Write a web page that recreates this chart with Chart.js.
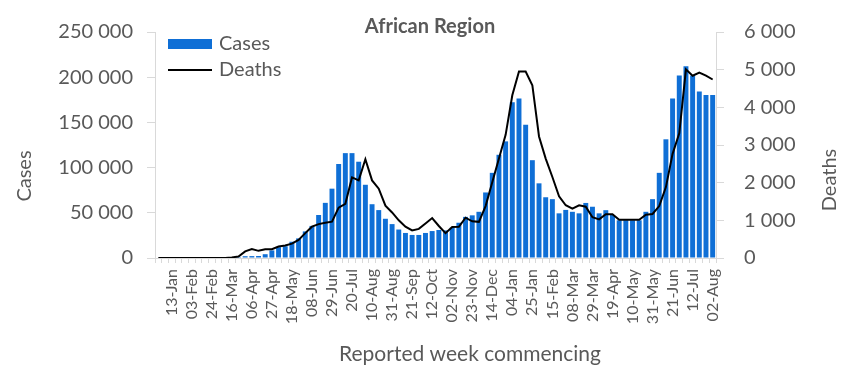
<!DOCTYPE html>
<html>
<head>
<meta charset="utf-8">
<script src="https://cdn.jsdelivr.net/npm/chart.js@4"></script>
<style>
  html, body { margin: 0; padding: 0; background: #fff; }
</style>
</head>
<body>
<canvas id="myChart" width="851" height="377"></canvas>
<script>
const weeks = [
  '30-Dec', '06-Jan', '13-Jan', '20-Jan', '27-Jan', '03-Feb', '10-Feb', '17-Feb', '24-Feb', '02-Mar',
  '09-Mar', '16-Mar', '23-Mar', '30-Mar', '06-Apr', '13-Apr', '20-Apr', '27-Apr', '04-May', '11-May',
  '18-May', '25-May', '01-Jun', '08-Jun', '15-Jun', '22-Jun', '29-Jun', '06-Jul', '13-Jul', '20-Jul',
  '27-Jul', '03-Aug', '10-Aug', '17-Aug', '24-Aug', '31-Aug', '07-Sep', '14-Sep', '21-Sep', '28-Sep',
  '05-Oct', '12-Oct', '19-Oct', '26-Oct', '02-Nov', '09-Nov', '16-Nov', '23-Nov', '30-Nov', '07-Dec',
  '14-Dec', '21-Dec', '28-Dec', '04-Jan', '11-Jan', '18-Jan', '25-Jan', '01-Feb', '08-Feb', '15-Feb',
  '22-Feb', '01-Mar', '08-Mar', '15-Mar', '22-Mar', '29-Mar', '05-Apr', '12-Apr', '19-Apr', '26-Apr',
  '03-May', '10-May', '17-May', '24-May', '31-May', '07-Jun', '14-Jun', '21-Jun', '28-Jun', '05-Jul',
  '12-Jul', '19-Jul', '26-Jul', '02-Aug'
];

const cases = [
  0, 0, 0, 0, 0, 0, 0, 0, 0, 0,
  50, 400, 1000, 2000, 2100, 2200, 4200, 8400, 12000, 13000,
  18000, 21700, 29400, 35500, 47600, 61000, 76700, 104000, 116000, 116000,
  106500, 81000, 59500, 53000, 43400, 37500, 31500, 27700, 25500, 25500,
  27700, 29800, 31000, 30500, 33500, 39000, 45500, 47200, 51100, 72500,
  94200, 114200, 129000, 172300, 176500, 147400, 108200, 82600, 67200, 65100,
  49400, 53200, 51100, 49400, 60900, 56700, 49400, 52900, 47600, 41700,
  41700, 41700, 41700, 51100, 65100, 94200, 131300, 176500, 202000, 212000,
  202000, 184300, 180300, 180300
];

const deaths = [
  0, 0, 0, 0, 0, 0, 0, 0, 0, 0,
  0, 15, 40, 175, 240, 190, 230, 235, 305, 330,
  380, 480, 660, 832, 900, 935, 965, 1336, 1440, 2140,
  2060, 2620, 2060, 1840, 1390, 1210, 1000, 832, 731, 773,
  916, 1060, 850, 660, 825, 830, 1070, 975, 960, 1378,
  2009, 2639, 3269, 4319, 4949, 4949, 4588, 3227, 2639, 2150,
  1640, 1400, 1310, 1400, 1361, 1084, 1025, 1160, 1160, 1017,
  1017, 1017, 1017, 1151, 1168, 1378, 1883, 2765, 3311, 5008,
  4840, 4924, 4840, 4739
];

const titleText = 'African Region';
const xTitle = 'Reported week commencing';
const yTitle = 'Cases';
const y1Title = 'Deaths';

const textColor = '#595959';
const axisColor = '#d9d9d9';
const barColor = '#0f6fd6';

Chart.defaults.font.family = 'Lato';
Chart.defaults.color = textColor;

const spaced = v => String(v).replace(/\B(?=(\d{3})+(?!\d))/g, ' ');

// title, axis titles and legend drawn by hand, Excel puts them where it likes
const extras = {
  id: 'extras',
  afterDraw(chart) {
    const ctx = chart.ctx;
    ctx.save();
    ctx.fillStyle = textColor;
    ctx.textBaseline = 'middle';

    ctx.font = 'bold 20px Lato';
    ctx.textAlign = 'center';
    ctx.fillText(titleText, 430, 27);

    ctx.font = '21px Lato';
    ctx.fillText(xTitle, 470, 354);

    ctx.font = '20px Lato';
    ctx.save();
    ctx.translate(25, 176);
    ctx.rotate(-Math.PI / 2);
    ctx.fillText(yTitle, 0, 0);
    ctx.restore();

    ctx.save();
    ctx.translate(830, 180);
    ctx.rotate(-Math.PI / 2);
    ctx.fillText(y1Title, 0, 0);
    ctx.restore();

    // legend
    const ds = chart.data.datasets;
    ctx.textAlign = 'left';
    ctx.fillStyle = ds[1].backgroundColor;
    ctx.fillRect(168, 39, 44, 10);
    ctx.strokeStyle = ds[0].borderColor;
    ctx.lineWidth = 2;
    ctx.beginPath();
    ctx.moveTo(168, 70);
    ctx.lineTo(212, 70);
    ctx.stroke();
    ctx.fillStyle = textColor;
    ctx.fillText(ds[1].label, 219, 44);
    ctx.fillText(ds[0].label, 219, 70);
    ctx.restore();
  }
};

const chart = new Chart(document.getElementById('myChart'), {
  data: {
    labels: weeks,
    datasets: [
      {
        type: 'line',
        label: 'Deaths',
        data: deaths,
        yAxisID: 'y1',
        borderColor: '#000000',
        borderWidth: 2,
        pointRadius: 0,
        tension: 0,
        order: 0
      },
      {
        type: 'bar',
        label: 'Cases',
        data: cases,
        yAxisID: 'y',
        backgroundColor: barColor,
        categoryPercentage: 1,
        barPercentage: 0.74,
        order: 1
      }
    ]
  },
  options: {
    responsive: false,
    animation: false,
    devicePixelRatio: 1,
    layout: { padding: { top: 20, left: 0, right: 0, bottom: 0 } },
    plugins: {
      legend: { display: false },
      tooltip: { enabled: false }
    },
    scales: {
      x: {
        grid: { offset: true, drawOnChartArea: false, drawTicks: true, tickLength: 5, color: axisColor },
        border: { color: axisColor },
        ticks: {
          autoSkip: false,
          maxRotation: 90,
          minRotation: 90,
          padding: 6,
          font: { size: 16 },
          callback: (v, i) => (i % 3 === 2 ? weeks[i] : '')
        },
        afterFit: s => { s.height = 119; }
      },
      y: {
        position: 'left',
        min: 0,
        max: 250000,
        grid: { drawOnChartArea: false, tickLength: 8, color: axisColor },
        border: { color: axisColor },
        ticks: { stepSize: 50000, padding: 14, font: { size: 20 }, callback: v => spaced(v) },
        afterFit: s => { s.width = 155; }
      },
      y1: {
        position: 'right',
        min: 0,
        max: 6000,
        grid: { drawOnChartArea: false, tickLength: 8, color: axisColor },
        border: { color: axisColor },
        ticks: { stepSize: 1000, padding: 20, font: { size: 20 }, callback: v => spaced(v) },
        afterFit: s => { s.width = 135; }
      }
    }
  },
  plugins: [extras]
});
</script>
</body>
</html>
